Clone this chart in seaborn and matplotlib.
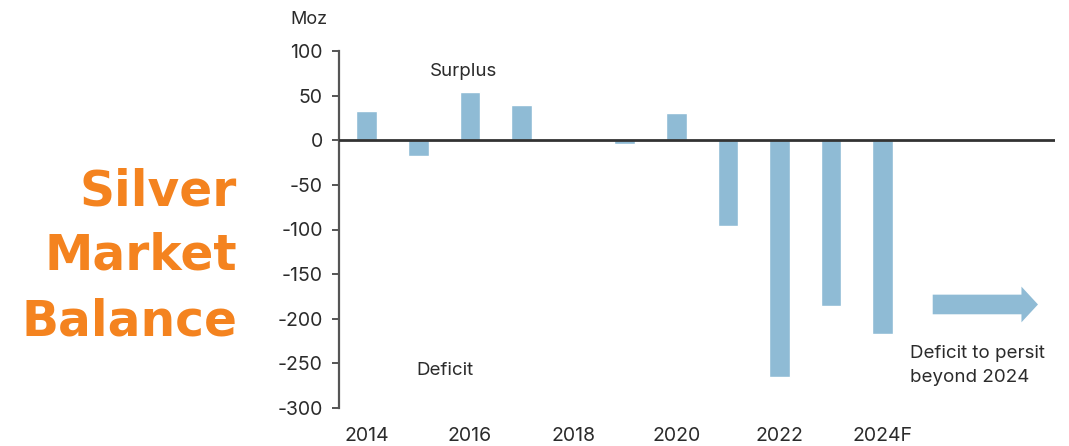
import matplotlib
matplotlib.use("Agg")
import matplotlib.pyplot as plt
from matplotlib.patches import FancyArrow
import seaborn as sns
import pandas as pd

# Silver market balance, million ounces (Moz)
years = ["2014", "2015", "2016", "2017", "2018", "2019", "2020",
         "2021", "2022", "2023", "2024F"]
balance = [33, -18, 54, 40, 0, -4.5, 30, -96, -265, -186, -217]
tick_labels = ["2014", "", "2016", "", "2018", "", "2020", "", "2022", "", "2024F"]
y_ticks = [100, 50, 0, -50, -100, -150, -200, -250, -300]

BAR = "#8fbbd5"
ORANGE = "#f4831f"
TXT = "#2b2b2b"

sns.set_theme(style="white")
plt.rcParams["font.family"] = ["Inter", "DejaVu Sans"]

W, H = 1069, 446
fig = plt.figure(figsize=(W / 100, H / 100), dpi=100)
ax = fig.add_axes([339.3 / W, 1 - 408 / H, (1055 - 339.3) / W, (408 - 51) / H])

df = pd.DataFrame({"year": years, "balance": balance})
sns.barplot(data=df, x="year", y="balance", color=BAR, saturation=1,
            width=0.40, ax=ax, zorder=2)

ax.set_xlim(-0.531, 13.34)
ax.set_ylim(-300, 100)
ax.axhline(0, color="#333333", lw=2, zorder=3)

ax.set_yticks(y_ticks)
ax.set_yticklabels([str(v) for v in y_ticks])
ax.set_xticks(range(len(years)))
ax.set_xticklabels(tick_labels)
ax.set_xlabel("")
ax.set_ylabel("")

for s in ["top", "right", "bottom"]:
    ax.spines[s].set_visible(False)
ax.spines["left"].set_color("#555555")
ax.spines["left"].set_linewidth(1.6)

ax.tick_params(axis="y", left=True, length=5, width=1.4, color="#555555",
               pad=7, labelsize=14, labelcolor=TXT)
ax.tick_params(axis="x", bottom=False, length=0, pad=14,
               labelsize=14, labelcolor=TXT)

# Arrow pointing beyond the forecast year
ax.add_patch(FancyArrow(10.97, -184, 1.72, 0, width=22, head_width=40,
                        head_length=0.32, length_includes_head=False,
                        color=BAR, lw=0, zorder=2))


def px_text(x, y, s, **kw):
    fig.text(x / W, 1 - y / H, s, **kw)


px_text(290, 24, "Moz", fontsize=13, color=TXT, va="baseline")
px_text(430, 76, "Surplus", fontsize=13.5, color=TXT, va="baseline")
px_text(416, 375, "Deficit", fontsize=13.5, color=TXT, va="baseline")
px_text(910, 358, "Deficit to persit", fontsize=13.5, color=TXT, va="baseline")
px_text(910, 382, "beyond 2024", fontsize=13.5, color=TXT, va="baseline")

for word, base in [("Silver", 205), ("Market", 270), ("Balance", 335)]:
    px_text(237, base, word, fontsize=35, color=ORANGE, fontweight="bold",
            ha="right", va="baseline", family=["DejaVu Sans"])

fig.savefig("out.png", dpi=100, facecolor="white")
